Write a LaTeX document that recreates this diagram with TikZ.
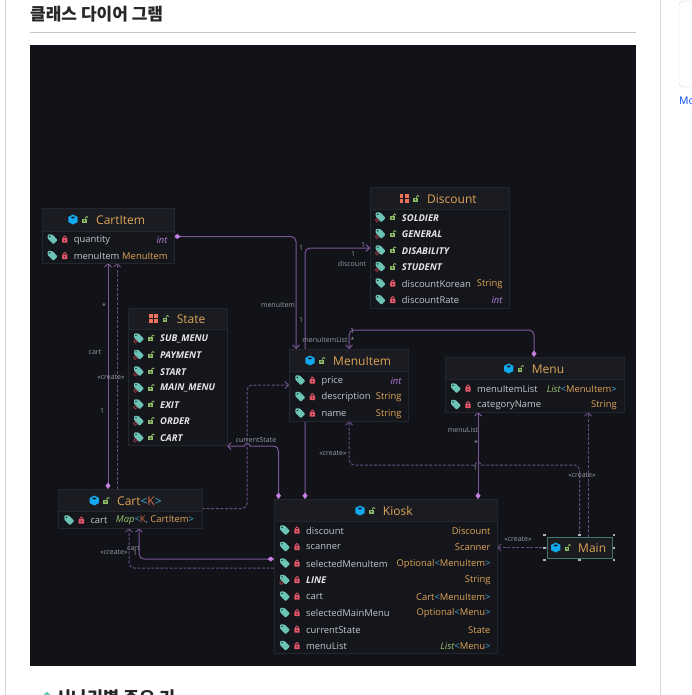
\documentclass[tikz,border=0pt]{standalone}
\usepackage{fontspec}
\setmainfont{Open Sans}
\newfontfamily\cjk{Noto Sans CJK KR}
\usetikzlibrary{arrows.meta,backgrounds,shapes.geometric}

\definecolor{pageDark}{HTML}{111318}
\definecolor{boxFill}{HTML}{14161B}
\definecolor{headFill}{HTML}{1A1C21}
\definecolor{boxLine}{HTML}{23262E}
\definecolor{pageLine}{HTML}{D0D7DE}
\definecolor{linePurple}{HTML}{7A5897}
\definecolor{dashPurple}{HTML}{664D82}
\definecolor{tipPurple}{HTML}{C57FE0}
\definecolor{nameGrey}{HTML}{C3C6CD}
\definecolor{labelGrey}{HTML}{9A9CA8}
\definecolor{typeOrange}{HTML}{DFA458}
\definecolor{typePurple}{HTML}{B07FD8}
\definecolor{typeGreen}{HTML}{97C56F}
\definecolor{typeBlue}{HTML}{45A9D8}
\definecolor{typeRed}{HTML}{D9684F}
\definecolor{tagTeal}{HTML}{6CC4B6}
\definecolor{lockRed}{HTML}{E4566A}
\definecolor{lockGreen}{HTML}{8DBB66}
\definecolor{classBlue}{HTML}{12A8EE}
\definecolor{enumRed}{HTML}{EE7358}

\newcommand{\tyO}[1]{\textcolor{typeOrange}{#1}}
\newcommand{\tyP}[1]{\textcolor{typePurple}{\itshape #1}}
\newcommand{\tyG}[1]{\textcolor{typeGreen}{\itshape #1}}
\newcommand{\tyB}[1]{\textcolor{typeBlue}{#1}}
\newcommand{\conName}[1]{\textcolor{white!90!black}{\bfseries\itshape #1}}

\tikzset{
  classbox/.style={draw=boxLine, fill=boxFill, line width=.7pt, anchor=north west,
    inner sep=0pt, outer sep=0pt},
  headbox/.style={draw=boxLine, fill=headFill, line width=.7pt, anchor=north west,
    inner sep=0pt, outer sep=0pt},
  titletext/.style={anchor=west, inner sep=0pt, yshift=-.8pt, text=typeOrange, font=\fontsize{12}{12}\selectfont},
  fieldtext/.style={anchor=west, inner sep=0pt, yshift=-.7pt, text=nameGrey, font=\fontsize{9.4}{10}\selectfont},
  typetext/.style={anchor=east, inner sep=0pt, yshift=-.7pt, font=\fontsize{9.4}{10}\selectfont},
  edgelabel/.style={inner sep=0pt, text=labelGrey, font=\fontsize{7}{8}\selectfont},
  handlebox/.style={fill=gray!60, inner sep=0pt, minimum size=2.6pt},
  assocline/.style={draw=linePurple, line width=1pt, rounded corners=5,
    {Diamond[fill=tipPurple,color=tipPurple,length=6.5pt,width=5pt]}-{Straight Barb[length=3.5pt,width=7pt]}},
  createline/.style={draw=dashPurple, line width=1pt, rounded corners=5,
    dash pattern=on 3pt off 1.6pt, -{Straight Barb[length=3.5pt,width=7pt]}},
  tagshape/.pic={
    \fill[tagTeal, rounded corners=1pt] (-5,-4.6) -- (-.5,-4.6) -- (5,1) -- (.6,5.2) -- (-5,-.3) -- cycle;
    \fill[boxFill] (-3,-2.6) circle (.8);
  },
  statictag/.pic={
    \pic {tagshape};
    \draw[lockRed!70!black, line width=.7pt] (-3.6,3.2) circle (1.8);
  },
  redlock/.pic={
    \draw[lockRed, line width=.8pt] (-1.4,-.8) -- (-1.4,-1.8)
      .. controls (-1.4,-3.4) and (1.4,-3.4) .. (1.4,-1.8) -- (1.4,-.8);
    \fill[lockRed, rounded corners=.5pt] (-2.7,-.8) rectangle (2.7,3.6);
    \fill[boxFill] (0,1.3) circle (.7);
  },
  greenlock/.pic={
    \draw[lockGreen, line width=.8pt] (.8,-.8) -- (.8,-1.9)
      .. controls (.8,-3.4) and (3.4,-3.4) .. (3.4,-1.9);
    \fill[lockGreen] (-2.9,-.8) rectangle (2,3.4);
    \fill[boxFill] (-.4,1.2) circle (.8);
  },
  fieldicon/.pic={\pic {tagshape}; \pic at (12,0) {redlock};},
  lineicon/.pic={\pic {statictag}; \pic at (12,0) {redlock};},
  consticon/.pic={\pic {statictag}; \pic at (12,0) {greenlock};},
  classicon/.pic={
    \fill[classBlue] (0,-5) -- (4.6,-2.6) -- (4.6,2.6) -- (0,5) -- (-4.6,2.6) -- (-4.6,-2.6) -- cycle;
    \fill[boxFill] (-2.2,-2) -- (0,-3.1) -- (2.2,-2) -- (0,-.9) -- cycle;
    \pic at (11.7,0) {greenlock};
  },
  enumicon/.pic={
    \fill[enumRed] (-4.5,-4.5) rectangle (-.6,-.6);
    \fill[enumRed] (.6,-4.5) rectangle (4.5,-.6);
    \fill[enumRed] (-4.5,.6) rectangle (-.6,4.5);
    \fill[enumRed] (.6,.6) rectangle (4.5,4.5);
    \pic at (11.7,0) {greenlock};
  },
}

% name, x, y, width, height, header height
\newcommand{\umlBox}[6]{
  \node[classbox, minimum width=#4, minimum height=#5] (#1) at (#2,#3) {};
  \node[headbox, minimum width=#4, minimum height=#6] (#1Head) at (#2,#3) {};
}
% name, icon, icon x, title x, y, title
\newcommand{\umlTitle}[6]{
  \pic at (#3,#5) {#2};
  \node[titletext] (#1Title) at (#4,#5) {#6};
}
% name, tag x, right x, first y, rows
\newcommand{\umlFields}[5]{
  \foreach[count=\i] \fname/\ftype/\ficon in {#5}{
    \pic at (#2,{#4+16.5*(\i-1)}) {\ficon};
    \node[fieldtext] (#1Field\i) at (#2+21,{#4+16.5*(\i-1)}) {\fname};
    \node[typetext] (#1Type\i) at (#3,{#4+16.5*(\i-1)}) {\ftype};
  }
}

\begin{document}
\begin{tikzpicture}[x=1pt,y=-1pt]
  \useasboundingbox (0,0) rectangle (692,695);

  \umlBox{cartItem}{42}{208}{132}{55}{23}
  \umlTitle{cartItem}{classicon}{73}{96}{219.5}{CartItem}
  \umlFields{cartItem}{52.7}{167.7}{239}{
    quantity/\tyP{int}/fieldicon,
    menuItem/\tyO{MenuItem}/fieldicon}

  \umlBox{state}{128.7}{308}{98.3}{137}{21}
  \umlTitle{state}{enumicon}{153.7}{176.7}{318.5}{State}
  \umlFields{state}{139}{220}{338}{
    \conName{SUB\_MENU}//consticon,
    \conName{PAYMENT}//consticon,
    \conName{START}//consticon,
    \conName{MAIN\_MENU}//consticon,
    \conName{EXIT}//consticon,
    \conName{ORDER}//consticon,
    \conName{CART}//consticon}

  \umlBox{discount}{370}{187}{139}{121}{22}
  \umlTitle{discount}{enumicon}{404}{427}{198.5}{Discount}
  \umlFields{discount}{380.7}{502.7}{217}{
    \conName{SOLDIER}//consticon,
    \conName{GENERAL}//consticon,
    \conName{DISABILITY}//consticon,
    \conName{STUDENT}//consticon,
    discountKorean/\tyO{String}/fieldicon,
    discountRate/\tyP{int}/fieldicon}

  \umlBox{menuItem}{289}{349}{119}{72}{22}
  \umlTitle{menuItem}{classicon}{310}{333}{360.5}{MenuItem}
  \umlFields{menuItem}{300.3}{401.7}{380}{
    price/\tyP{int}/fieldicon,
    description/\tyO{String}/fieldicon,
    name/\tyO{String}/fieldicon}

  \umlBox{menu}{445}{357}{179}{55}{22}
  \umlTitle{menu}{classicon}{508.7}{531.7}{368.5}{Menu}
  \umlFields{menu}{456}{617}{388}{
    menuItemList/{\tyG{List}\tyB{<}\tyO{MenuItem}\tyB{>}}/fieldicon,
    categoryName/\tyO{String}/fieldicon}

  \umlBox{cart}{58}{489}{144}{39}{22}
  \umlTitle{cart}{classicon}{94.3}{117}{500.5}{Cart\tyB{<}\textcolor{typeRed}{K}\tyB{>}}
  \umlFields{cart}{69.3}{194.3}{520}{
    cart/{\tyG{Map}\tyB{<}\textcolor{typeRed}{K}\tyB{,} \tyO{CartItem}\tyB{>}}/fieldicon}

  \umlBox{kiosk}{274}{499}{223}{154}{22}
  \umlTitle{kiosk}{classicon}{360}{382.7}{510.5}{Kiosk}
  \umlFields{kiosk}{285}{490.7}{530}{
    discount/\tyO{Discount}/fieldicon,
    scanner/\tyO{Scanner}/fieldicon,
    selectedMenuItem/{\tyO{Optional}\tyB{<}\tyO{MenuItem}\tyB{>}}/fieldicon,
    \conName{LINE}/\tyO{String}/lineicon,
    cart/{\tyO{Cart}\tyB{<}\tyO{MenuItem}\tyB{>}}/fieldicon,
    selectedMainMenu/{\tyO{Optional}\tyB{<}\tyO{Menu}\tyB{>}}/fieldicon,
    currentState/\tyO{State}/fieldicon,
    menuList/{\tyG{List}\tyB{<}\tyO{Menu}\tyB{>}}/fieldicon}

  \node[classbox, draw=tagTeal!60!black, fill=headFill, minimum width=65, minimum height=21] (main) at (547,537) {};
  \umlTitle{main}{classicon}{555.7}{578}{547.5}{Main}
  % selection handles round Main
  \foreach[count=\i] \hx/\hy in {544.5/535,579.5/535,614/535,544.5/548,614/548,544.5/560,579.5/560,614/560}{
    \node[handlebox] (mainHandle\i) at (\hx,\hy) {};
  }

  \begin{scope}[on background layer]
    \fill[white] (0,0) rectangle (692,695);
    \draw[pageLine] (5.5,0) -- (5.5,695);
    \draw[pageLine] (660.5,0) -- (660.5,695);
    \draw[pageLine, rounded corners=4] (700,1) -- (679,1) -- (679,87) -- (700,87);
    \draw[pageLine!80!gray] (30,32.5) -- (636,32.5);
    \fill[pageDark] (30,45) rectangle (636,666);

    % associations
    \draw[assocline] ([yshift=-1]cartItem.east) -| ([xshift=7]menuItem.north west);
    \draw[assocline] ([xshift=31]kiosk.north west) |- ([yshift=-61]discount.north west);
    \draw[assocline] ([xshift=89]menu.north west) -- (534,330) -- (349,330) -- ([xshift=60]menuItem.north west);
    \draw[assocline] ([xshift=204]kiosk.north west) -- ([xshift=33]menu.south west);
    \draw[assocline] ([xshift=4.5]kiosk.north west) -- (278.5,446) [sharp corners] -- (250,446)
      .. controls (250,442.5) and (244.5,442.5) .. (244.5,446) -- ([yshift=-1]state.south east);
    \draw[assocline] ([xshift=50]cart.north west) -- ([xshift=66]cartItem.south west);
    \draw[assocline] ([yshift=-60]kiosk.north west) -- (139,559) -- ([xshift=81]cart.south west);

    % create dependencies
    \draw[createline] ([xshift=41]main.north west) -- ([xshift=143]menu.south west);
    \draw[createline] (mainHandle2) -- (579.5,465) [sharp corners] -- (481,465)
      .. controls (481,461.5) and (475,461.5) .. (475,465) [rounded corners=5] -- (349,465) -- ([xshift=60]menuItem.south west);
    \draw[createline] (main.west) -- (kiosk.east |- main.west);
    \draw[createline] (cart.east) -- (247,508.5) -- (247,385) -- (menuItem.west);
    \draw[createline] ([xshift=59]cart.north west) -- ([xshift=75]cartItem.south west);
    \draw[createline] ([yshift=-69]kiosk.north west) -- (129,568) -- ([xshift=71]cart.south west);
  \end{scope}

  \foreach[count=\i] \lx/\ly/\ltext in {301/248/1, 278/305/menuItem, 301/320/1, 363/245/1, 353/254/1,
      352/264/discount, 352/331/1, 325/340/menuItemList, 352.5/340/*, 463/430/menuList, 476/443/*,
      475/468/1, 582/475/«create», 333/453/«create», 518/539/«create», 256/440/currentState,
      104/306/*, 95/352/cart, 102/411/1, 111/377/«create», 133.5/548/cart, 135/553/1, 114/552/«create»}{
    \node[edgelabel] (edgeLabel\i) at (\lx,\ly) {\ltext};
  }

  % page text round the diagram
  \node[anchor=west, inner sep=0pt, text=black!85, font=\cjk\fontsize{17}{18}\selectfont\bfseries] (pageTitle) at (30,14) {클래스 다이어 그램};
  \node[anchor=west, inner sep=0pt, text=blue!70!cyan, font=\fontsize{10.5}{11}\selectfont] (moreLink) at (679,101) {Mo};
  \node[anchor=west, inner sep=0pt, text=black!85, font=\cjk\fontsize{17.5}{18}\selectfont\bfseries] (nextTitle) at (55,698) {시나리별 주요 기};
  \node[diamond, fill=tagTeal, inner sep=0pt, minimum size=7pt] (nextMark) at (47,695) {};
\end{tikzpicture}
\end{document}
